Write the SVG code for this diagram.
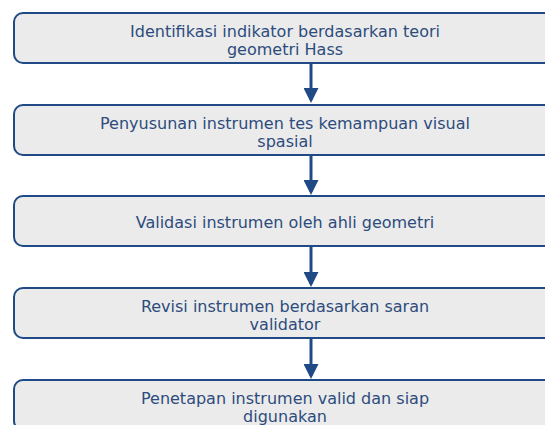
<svg xmlns="http://www.w3.org/2000/svg" width="545" height="425" viewBox="0 0 545 425">
<style>
.box{fill:#ebebeb;stroke:#1f4a85;stroke-width:2}
.t{font-family:"DejaVu Sans",sans-serif;font-size:16px;fill:#2d4b7c;text-anchor:middle}
.c{stroke:#1f4a85;stroke-width:3;fill:none}
</style>
<defs>
<marker id="ah" markerWidth="5" markerHeight="5" refX="4" refY="2.5" orient="auto" markerUnits="strokeWidth">
<path d="M0,0 L5,2.5 L0,5 Z" fill="#1f4a85"/>
</marker>
</defs>
<g id="connectors">
<line class="c" x1="311" y1="64" x2="311" y2="100" marker-end="url(#ah)"/>
<line class="c" x1="311" y1="156" x2="311" y2="192" marker-end="url(#ah)"/>
<line class="c" x1="311" y1="247" x2="311" y2="284" marker-end="url(#ah)"/>
<line class="c" x1="311" y1="339" x2="311" y2="376" marker-end="url(#ah)"/>
</g>
<g id="n1"><rect class="box" x="14" y="13" width="600" height="50" rx="9"/>
<text class="t" x="285" y="36.5">Identifikasi indikator berdasarkan teori</text>
<text class="t" x="285" y="54.5">geometri Hass</text></g>
<g id="n2"><rect class="box" x="14" y="105" width="600" height="50" rx="9"/>
<text class="t" x="285" y="128.5">Penyusunan instrumen tes kemampuan visual</text>
<text class="t" x="285" y="146.5">spasial</text></g>
<g id="n3"><rect class="box" x="14" y="196" width="600" height="50" rx="9"/>
<text class="t" x="285" y="228">Validasi instrumen oleh ahli geometri</text></g>
<g id="n4"><rect class="box" x="14" y="288" width="600" height="50" rx="9"/>
<text class="t" x="285" y="311.5">Revisi instrumen berdasarkan saran</text>
<text class="t" x="285" y="329.5">validator</text></g>
<g id="n5"><rect class="box" x="14" y="380" width="600" height="50" rx="9"/>
<text class="t" x="285" y="403.5">Penetapan instrumen valid dan siap</text>
<text class="t" x="285" y="421.5">digunakan</text></g>
</svg>
